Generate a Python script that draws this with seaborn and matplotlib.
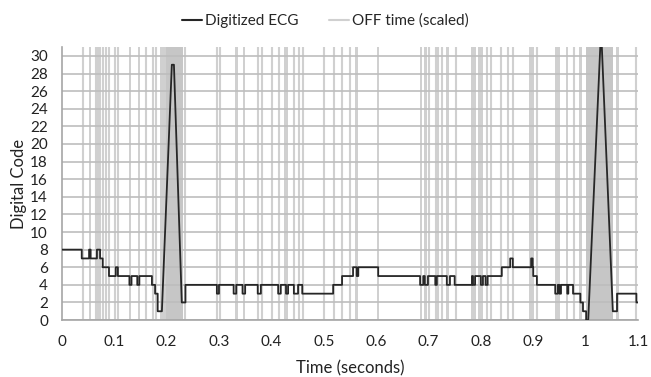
import matplotlib
matplotlib.use("Agg")
import matplotlib.pyplot as plt
from matplotlib.lines import Line2D
import pandas as pd
import seaborn as sns

# ECG level changes (seconds, digital code); the signal holds each level until the next time
ecg_time = [0.000, 0.038, 0.052, 0.055, 0.067, 0.073, 0.078, 0.090, 0.103, 0.107,
            0.129, 0.133, 0.144, 0.148, 0.172, 0.178, 0.183, 0.191, 0.210, 0.214,
            0.229, 0.236, 0.296, 0.300, 0.328, 0.333, 0.345, 0.350, 0.374, 0.380,
            0.413, 0.418, 0.428, 0.432, 0.443, 0.451, 0.459, 0.518, 0.535, 0.556,
            0.563, 0.566, 0.604, 0.684, 0.690, 0.693, 0.699, 0.713, 0.716, 0.735,
            0.741, 0.750, 0.783, 0.785, 0.789, 0.800, 0.804, 0.809, 0.813, 0.840,
            0.856, 0.861, 0.896, 0.899, 0.900, 0.907, 0.942, 0.947, 0.950, 0.953,
            0.965, 0.967, 0.976, 0.990, 0.995, 1.001, 1.005, 1.028, 1.031, 1.052,
            1.060, 1.097, 1.100]
ecg_code = [8, 7, 8, 7, 8, 7, 6, 5, 6, 5,
            4, 5, 4, 5, 4, 3, 1, 1, 29, 29,
            2, 4, 3, 4, 3, 4, 3, 4, 3, 4,
            3, 4, 3, 4, 3, 4, 3, 4, 5, 6,
            5, 6, 5, 4, 5, 4, 5, 4, 5, 4,
            5, 4, 5, 4, 5, 4, 5, 4, 5, 6,
            7, 6, 7, 6, 5, 4, 3, 4, 3, 4,
            3, 4, 3, 2, 1, 0, 0, 31, 31, 1,
            3, 2, 2]
# times whose segment to the next point is a straight ramp (QRS peaks)
ramp_time = [0.191, 0.214, 1.005, 1.031]

# OFF time markers (seconds)
off_lines = [0.040, 0.065, 0.069, 0.073, 0.078, 0.084, 0.090, 0.101, 0.107, 0.160,
             0.174, 0.180, 0.236, 0.297, 0.302, 0.374, 0.382, 0.401, 0.415, 0.443,
             0.453, 0.460, 0.500, 0.519, 0.535, 0.550, 0.701, 0.714, 0.718, 0.726,
             0.752, 0.812, 0.819, 0.838, 0.852, 0.861, 0.907, 0.978, 1.097]
off_start = [0.051, 0.129, 0.145, 0.188, 0.330, 0.345, 0.425, 0.560, 0.601, 0.683,
             0.691, 0.734, 0.781, 0.795, 0.892, 0.942, 0.963, 0.987, 1.058]
off_end = [0.055, 0.132, 0.149, 0.199, 0.337, 0.350, 0.432, 0.566, 0.606, 0.688,
           0.697, 0.739, 0.791, 0.804, 0.901, 0.951, 0.966, 0.993, 1.064]
dense_start = [0.199, 1.000]
dense_end = [0.232, 1.052]

x_ticks = [0, 0.1, 0.2, 0.3, 0.4, 0.5, 0.6, 0.7, 0.8, 0.9, 1.0, 1.1]
x_labels = ["0", "0.1", "0.2", "0.3", "0.4", "0.5", "0.6", "0.7", "0.8", "0.9", "1", "1.1"]
y_ticks = list(range(0, 31, 2))

# Build polyline from level changes
xs, ys = [], []
for i, (t, v) in enumerate(zip(ecg_time, ecg_code)):
    xs.append(t)
    ys.append(v)
    if i + 1 < len(ecg_time) and t not in ramp_time:
        xs.append(ecg_time[i + 1])
        ys.append(v)
df = pd.DataFrame({"time": xs, "code": ys})

sns.set_theme(style="white")
plt.rcParams["font.family"] = ["Lato", "DejaVu Sans"]

fig, ax = plt.subplots(figsize=(6.51, 3.77), dpi=100)
fig.subplots_adjust(left=0.095, right=0.980, top=0.875, bottom=0.151)

off_color = "#d0d0d0"
for t in off_lines:
    ax.axvline(t, color=off_color, lw=1.5, zorder=0.2)
for a, b in zip(off_start, off_end):
    ax.axvspan(a, b, color=off_color, lw=0, zorder=0.2)
for a, b in zip(dense_start, dense_end):
    ax.axvspan(a, b, color="#c6c6c6", lw=0, zorder=0.2)

sns.lineplot(data=df, x="time", y="code", sort=False, estimator=None,
             color="#262626", lw=1.3, ax=ax, zorder=3)

ax.set_xlim(0, 1.1)
ax.set_ylim(0, 31)
ax.set_xticks(x_ticks)
ax.set_xticklabels(x_labels)
ax.set_yticks(y_ticks)
ax.yaxis.grid(True, color="#bdbdbd", lw=1.2)
ax.set_axisbelow(True)
ax.tick_params(length=0, labelsize=11, colors="#222222")
ax.tick_params(axis="x", pad=11)
ax.tick_params(axis="y", pad=10)
for s in ["top", "right"]:
    ax.spines[s].set_visible(False)
for s in ["left", "bottom"]:
    ax.spines[s].set_color("#a6a6a6")
    ax.spines[s].set_linewidth(1.2)

ax.set_xlabel("Time (seconds)", fontsize=12, color="#222222", labelpad=8)
ax.set_ylabel("Digital Code", fontsize=12, color="#222222", labelpad=2)

handles = [Line2D([], [], color="#262626", lw=1.5),
           Line2D([], [], color=off_color, lw=1.5)]
fig.legend(handles, ["Digitized ECG", "OFF time (scaled)"], loc="upper center",
           bbox_to_anchor=(0.5, 1.0), ncol=2, frameon=False, fontsize=11,
           handlelength=1.3, handletextpad=0.2, columnspacing=2.0)

fig.savefig("out.png", dpi=100)
